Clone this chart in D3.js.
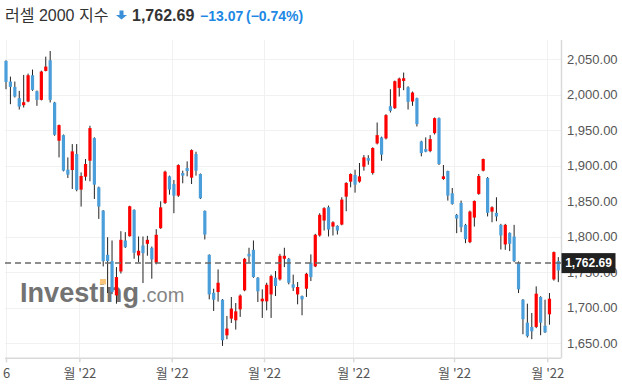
<!DOCTYPE html>
<html>
<head>
<meta charset="utf-8">
<script src="https://cdn.jsdelivr.net/npm/d3@7"></script>
<style>
  body { margin: 0; background: #fff; }
  svg { display: block; font-family: Arial, "Liberation Sans", "Noto Sans CJK KR", sans-serif; }
</style>
</head>
<body>
<div id="chart"></div>
<script>
// daily candles (oldest first)
const opens = [
  2047.7, 2018.6, 2011.1, 1995.2, 1985.3, 1990.5, 2027.5, 2005.0, 1992.8, 2033.6,
  2048.6, 1989.1, 1935.2, 1943.1, 1894.4, 1893.9, 1916.4, 1866.3, 1884.5, 1907.0,
  1938.9, 1869.5, 1836.7, 1774.4, 1765.5, 1717.2, 1750.9, 1794.6, 1800.6, 1837.7,
  1773.5, 1787.5, 1789.9, 1784.3, 1763.2, 1811.9, 1847.5, 1885.0, 1874.2, 1857.8,
  1889.7, 1896.7, 1883.1, 1916.4, 1888.3, 1836.3, 1774.4, 1720.9, 1721.9, 1711.1,
  1660.9, 1684.4, 1682.1, 1697.5, 1724.3, 1775.8, 1781.4, 1742.1, 1708.8, 1708.8,
  1718.6, 1742.1, 1739.7, 1768.8, 1768.8, 1732.7, 1718.6, 1716.3, 1726.6, 1763.2,
  1758.0, 1801.6, 1822.7, 1841.5, 1814.2, 1815.2, 1817.0, 1856.4, 1877.5, 1886.9,
  1877.5, 1898.6, 1910.8, 1889.7, 1931.4, 1939.9, 1938.5, 1983.9, 1981.1, 2009.7,
  2019.5, 2010.6, 1990.5, 1995.2, 1934.2, 1923.5, 1920.6, 1945.9, 1967.0, 1881.3,
  1892.5, 1861.1, 1830.7, 1847.5, 1816.6, 1792.2, 1826.9, 1860.2, 1893.0, 1882.7,
  1835.3, 1833.5, 1816.6, 1789.0, 1805.3, 1800.2, 1763.2, 1711.1, 1678.8, 1672.7,
  1672.7, 1714.9, 1674.5, 1690.5, 1739.7, 1765.5
];
const highs = [
  2048.5, 2025.6, 2018.6, 2005.5, 2028.0, 2029.8, 2035.5, 2006.0, 2034.0, 2053.7,
  2061.7, 1990.0, 1958.0, 1944.0, 1911.7, 1930.5, 1930.5, 1890.6, 1909.4, 1956.3,
  1940.0, 1870.5, 1837.5, 1799.2, 1794.6, 1757.1, 1807.7, 1806.3, 1843.5, 1838.5,
  1800.2, 1800.2, 1801.1, 1786.0, 1810.5, 1849.8, 1893.0, 1886.0, 1879.9, 1902.0,
  1893.0, 1906.1, 1923.0, 1919.7, 1889.0, 1837.0, 1775.0, 1726.6, 1753.8, 1712.0,
  1688.2, 1714.9, 1706.4, 1718.6, 1770.0, 1784.3, 1794.6, 1743.0, 1725.7, 1735.0,
  1746.4, 1751.5, 1775.8, 1784.3, 1770.0, 1746.4, 1736.0, 1717.0, 1749.0, 1775.0,
  1804.0, 1833.0, 1841.5, 1843.8, 1821.7, 1816.0, 1855.5, 1876.7, 1889.2, 1894.4,
  1903.8, 1915.0, 1914.8, 1926.0, 1960.9, 1941.0, 1972.7, 2007.8, 2020.0, 2024.2,
  2031.3, 2012.0, 2004.5, 1996.0, 1935.2, 1939.9, 1943.1, 1968.0, 1968.0, 1901.0,
  1893.0, 1868.6, 1832.0, 1850.8, 1818.0, 1836.7, 1851.0, 1888.3, 1910.0, 1884.0,
  1842.8, 1855.5, 1818.0, 1818.0, 1806.0, 1816.6, 1765.0, 1712.0, 1705.5, 1692.4,
  1729.9, 1716.0, 1711.1, 1720.5, 1779.0, 1771.1
];
const lows = [
  2007.8, 1986.7, 1996.1, 1979.2, 1982.0, 1989.5, 2005.5, 1984.4, 1992.0, 2033.0,
  1989.1, 1942.2, 1911.7, 1892.0, 1882.7, 1867.2, 1863.9, 1842.4, 1878.9, 1878.0,
  1853.1, 1825.0, 1758.0, 1720.5, 1719.0, 1705.5, 1748.0, 1784.0, 1800.0, 1768.8,
  1764.1, 1734.6, 1773.1, 1740.7, 1761.0, 1811.0, 1846.0, 1859.2, 1833.0, 1856.0,
  1875.2, 1885.0, 1874.2, 1886.0, 1853.0, 1796.0, 1711.6, 1695.2, 1708.4, 1646.0,
  1655.4, 1678.3, 1669.0, 1686.9, 1723.0, 1763.2, 1742.0, 1707.8, 1685.4, 1696.1,
  1685.4, 1716.3, 1738.0, 1757.1, 1732.7, 1723.4, 1704.6, 1689.1, 1715.0, 1737.4,
  1757.0, 1800.0, 1808.7, 1800.2, 1801.6, 1803.0, 1816.0, 1835.8, 1869.5, 1862.0,
  1876.0, 1893.0, 1901.4, 1887.4, 1930.0, 1907.0, 1937.0, 1975.0, 1980.0, 1997.5,
  2006.4, 1979.2, 1984.4, 1955.3, 1913.2, 1919.0, 1919.0, 1944.0, 1901.0, 1880.0,
  1850.8, 1845.0, 1804.9, 1806.3, 1790.8, 1790.8, 1814.2, 1859.0, 1892.0, 1828.5,
  1820.3, 1821.7, 1781.9, 1781.4, 1779.6, 1764.0, 1720.5, 1662.4, 1657.8, 1655.4,
  1671.0, 1661.0, 1664.2, 1675.9, 1738.0, 1735.9
];
const closes = [
  2018.1, 2011.1, 1997.5, 1983.4, 1989.5, 2027.5, 2006.9, 1992.8, 2032.7, 2039.7,
  1992.8, 1943.6, 1957.2, 1893.0, 1887.4, 1920.2, 1865.8, 1885.5, 1902.4, 1953.0,
  1873.3, 1842.4, 1765.5, 1765.5, 1721.9, 1743.0, 1795.5, 1785.2, 1842.8, 1777.2,
  1780.1, 1776.7, 1795.5, 1767.8, 1802.6, 1841.3, 1891.6, 1866.3, 1857.8, 1900.9,
  1886.0, 1892.5, 1922.0, 1893.0, 1854.1, 1803.0, 1718.6, 1711.1, 1735.0, 1653.9,
  1670.4, 1698.6, 1694.7, 1716.9, 1768.8, 1772.1, 1743.0, 1722.9, 1712.5, 1732.2,
  1744.4, 1730.4, 1773.0, 1773.0, 1735.0, 1728.0, 1729.0, 1711.6, 1747.6, 1743.0,
  1802.6, 1830.7, 1840.1, 1810.0, 1820.3, 1808.6, 1852.2, 1875.7, 1888.3, 1873.3,
  1885.0, 1911.7, 1907.0, 1924.9, 1943.1, 1915.5, 1971.3, 1977.4, 2019.1, 2022.8,
  2023.3, 1990.0, 2003.1, 1958.6, 1917.8, 1919.7, 1937.5, 1967.0, 1902.4, 1885.0,
  1857.8, 1846.1, 1825.5, 1813.3, 1796.4, 1835.3, 1850.3, 1885.5, 1909.4, 1833.6,
  1841.4, 1828.4, 1801.6, 1816.6, 1789.9, 1765.5, 1725.7, 1683.5, 1659.7, 1666.6,
  1719.6, 1678.8, 1665.1, 1712.5, 1778.2, 1752.4
];

const yTicks = [1650, 1700, 1750, 1800, 1850, 1900, 1950, 2000, 2050];
// month ticks, in candle index units
const xTickPos = [0, 16.6, 37.5, 58.4, 78.6, 101.4, 122.5];
const xTickLabels = ['6', "월 '22", "월 '22", "월 '22", "월 '22", "월 '22", "월 '22"];

const title = '러셀 2000 지수';
const lastPrice = 1762.69;
const change = -13.07;
const changePct = -0.74;

const width = 622, height = 386;
const plot = { left: 5, right: 561, top: 40, bottom: 358.3 };
const upColor = '#ff0000', downColor = '#4a9fdb', wickColor = '#222';
const gridColor = '#f1f1f1', axisColor = '#d9d9d9', labelColor = '#555';

const candles = opens.map((o, i) => ({ i, o, h: highs[i], l: lows[i], c: closes[i] }));

const svg = d3.select('#chart').append('svg')
  .attr('width', width)
  .attr('height', height);

const x = d3.scaleLinear()
  .domain([0, candles.length - 1])
  .range([6, 558.3]);

const y = d3.scaleLinear()
  .domain([1628.5, 2077.2])
  .range([plot.bottom, plot.top]);

// header
const header = svg.append('g');
header.append('text')
  .attr('x', 5).attr('y', 20.5)
  .attr('font-size', 16).attr('fill', '#333')
  .text(title);
header.append('path')
  .attr('d', 'M119.5,10.5 H123.5 V15 H127 L121.5,19.5 L116,15 H119.5 Z')
  .attr('fill', '#3a8fd8');
header.append('text')
  .attr('x', 132).attr('y', 20.5)
  .attr('font-size', 16).attr('font-weight', 'bold').attr('fill', '#333')
  .text(d3.format(',.2f')(lastPrice));
header.append('text')
  .attr('x', 200).attr('y', 20.5)
  .attr('font-size', 14).attr('font-weight', 'bold').attr('fill', '#1e88e5')
  .text(d3.format('.2f')(change));
header.append('text')
  .attr('x', 246).attr('y', 20.5)
  .attr('font-size', 14).attr('font-weight', 'bold').attr('fill', '#1e88e5')
  .text(`(${d3.format('.2f')(changePct)}%)`);

// grid
svg.append('g')
  .selectAll('line')
  .data(yTicks)
  .enter()
  .append('line')
  .attr('x1', plot.left).attr('x2', plot.right)
  .attr('y1', d => Math.round(y(d)) + 0.5).attr('y2', d => Math.round(y(d)) + 0.5)
  .attr('stroke', gridColor);

svg.append('g')
  .selectAll('line')
  .data(xTickPos)
  .enter()
  .append('line')
  .attr('x1', d => Math.round(x(d)) + 0.5).attr('x2', d => Math.round(x(d)) + 0.5)
  .attr('y1', plot.top).attr('y2', plot.bottom)
  .attr('stroke', gridColor);

// watermark
const mark = svg.append('g');
mark.append('text')
  .attr('x', 20).attr('y', 301.5)
  .attr('font-size', 28).attr('font-weight', 'bold').attr('fill', '#737373')
  .attr('textLength', 119).attr('lengthAdjust', 'spacingAndGlyphs')
  .text('Investing');
mark.append('text')
  .attr('x', 141).attr('y', 301.5)
  .attr('font-size', 20).attr('fill', '#858585')
  .text('.com');
mark.append('rect')
  .attr('x', 100).attr('y', 279).attr('width', 6).attr('height', 5.5)
  .attr('fill', '#f9c67c');

// right axis
const yAxis = svg.append('g')
  .attr('transform', `translate(${plot.right}, 0)`)
  .call(d3.axisRight(y).tickValues(yTicks).tickFormat(d3.format(',.2f')).tickSize(0).tickPadding(6));
yAxis.select('.domain').remove();
yAxis.selectAll('text')
  .attr('font-size', 13).attr('font-family', 'Arial, "Liberation Sans", sans-serif').attr('fill', labelColor);
svg.append('line')
  .attr('x1', plot.right + 0.5).attr('x2', plot.right + 0.5)
  .attr('y1', plot.top).attr('y2', plot.bottom)
  .attr('stroke', axisColor).attr('stroke-width', 1.5);

// bottom axis
const xAxis = svg.append('g')
  .attr('transform', `translate(0, ${plot.bottom})`)
  .call(d3.axisBottom(x).tickValues(xTickPos).tickFormat((d, i) => xTickLabels[i]).tickSize(4).tickPadding(6));
xAxis.select('.domain').remove();
xAxis.selectAll('.tick line').attr('stroke', axisColor).attr('stroke-width', 1.5);
xAxis.selectAll('text')
  .attr('font-size', 13).attr('font-family', '"Noto Sans CJK KR", Arial, sans-serif').attr('fill', labelColor);
svg.append('line')
  .attr('x1', plot.left).attr('x2', plot.right)
  .attr('y1', plot.bottom).attr('y2', plot.bottom)
  .attr('stroke', axisColor).attr('stroke-width', 1.5);

// candles
const bar = svg.selectAll('.candle')
  .data(candles)
  .enter()
  .append('g')
  .attr('class', 'candle');

bar.append('line')
  .attr('x1', d => x(d.i)).attr('x2', d => x(d.i))
  .attr('y1', d => y(d.h)).attr('y2', d => y(d.l))
  .attr('stroke', wickColor).attr('stroke-width', 1);

bar.append('rect')
  .attr('x', d => x(d.i) - 1.6)
  .attr('width', 3.2)
  .attr('y', d => y(Math.max(d.o, d.c)))
  .attr('height', d => Math.max(1.5, Math.abs(y(d.o) - y(d.c))))
  .attr('fill', d => d.c >= d.o ? upColor : downColor);

// last price line and tag
svg.append('line')
  .attr('x1', plot.left).attr('x2', plot.right)
  .attr('y1', y(lastPrice)).attr('y2', y(lastPrice))
  .attr('stroke', '#6a6a6a').attr('stroke-width', 1.5)
  .attr('stroke-dasharray', '6,4');

svg.append('rect')
  .attr('x', plot.right + 0.5).attr('y', y(lastPrice) - 10)
  .attr('width', 54).attr('height', 20)
  .attr('fill', '#212121');
svg.append('text')
  .attr('x', plot.right + 27.5).attr('y', y(lastPrice))
  .attr('dy', '0.36em')
  .attr('text-anchor', 'middle')
  .attr('font-size', 12).attr('font-weight', 'bold').attr('fill', '#fff')
  .text(d3.format(',.2f')(lastPrice));
</script>
</body>
</html>
